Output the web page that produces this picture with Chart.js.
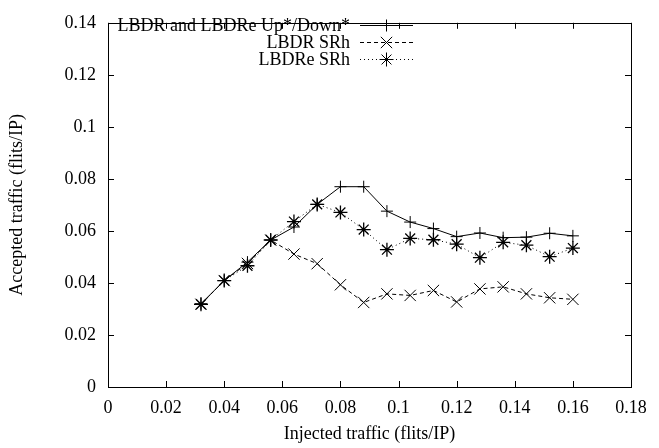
<!DOCTYPE html>
<html>
<head>
<meta charset="utf-8">
<script src="https://cdn.jsdelivr.net/npm/chart.js@4/dist/chart.umd.min.js"></script>
<style>
  html, body { margin: 0; padding: 0; background: #fff; }
  #wrap { width: 659px; height: 448px; }
</style>
</head>
<body>
<div id="wrap"><canvas id="trafficChart" width="659" height="448"></canvas></div>
<script>
// Injected traffic (flits/IP)
const injected = [0.032, 0.040, 0.048, 0.056, 0.064, 0.072, 0.080, 0.088, 0.096, 0.104, 0.112, 0.120, 0.128, 0.136, 0.144, 0.152, 0.160];
// Accepted traffic (flits/IP)
const upDown = [0.0320, 0.0409, 0.0480, 0.0565, 0.0615, 0.0702, 0.0770, 0.0770, 0.0676, 0.0634, 0.0609, 0.0578, 0.0592, 0.0574, 0.0576, 0.0591, 0.0581];
const lbdrSRh = [0.0318, 0.0409, 0.0475, 0.0565, 0.0511, 0.0474, 0.0393, 0.0325, 0.0358, 0.0352, 0.0371, 0.0327, 0.0377, 0.0385, 0.0358, 0.0343, 0.0337];
const lbdreSRh = [0.0318, 0.0409, 0.0466, 0.0565, 0.0636, 0.0702, 0.0671, 0.0605, 0.0528, 0.0571, 0.0566, 0.0549, 0.0497, 0.0556, 0.0545, 0.0501, 0.0534];

const xTicks = [0, 0.02, 0.04, 0.06, 0.08, 0.1, 0.12, 0.14, 0.16, 0.18];
const yTicks = [0, 0.02, 0.04, 0.06, 0.08, 0.1, 0.12, 0.14];

const seriesNames = ['LBDR and LBDRe Up*/Down*', 'LBDR SRh', 'LBDRe SRh'];

const FONT = '"Liberation Serif", "DejaVu Serif", serif';
const FSIZE = 18;

function toPoints(ys) {
    return injected.map((x, i) => ({ x: x, y: ys[i] }));
}

function fmt(v) {
    return String(Number(v.toFixed(2)));
}

// box round the plot with inward ticks on all four sides (gnuplot style)
const frame = {
    id: 'frame',
    afterDatasetsDraw(chart) {
        const ctx = chart.ctx;
        const a = chart.chartArea;
        const xs = chart.scales.x, ys = chart.scales.y;
        const len = 6;
        ctx.save();
        ctx.strokeStyle = '#000';
        ctx.lineWidth = 1;
        ctx.beginPath();
        xTicks.forEach(v => {
            const px = Math.round(xs.getPixelForValue(v)) + 0.5;
            ctx.moveTo(px, a.bottom); ctx.lineTo(px, a.bottom - len);
            ctx.moveTo(px, a.top); ctx.lineTo(px, a.top + len);
        });
        yTicks.forEach(v => {
            const py = Math.round(ys.getPixelForValue(v)) + 0.5;
            ctx.moveTo(a.left, py); ctx.lineTo(a.left + len, py);
            ctx.moveTo(a.right, py); ctx.lineTo(a.right - len, py);
        });
        ctx.stroke();
        ctx.strokeRect(Math.round(a.left) + 0.5, Math.round(a.top) + 0.5,
            Math.round(a.right - a.left), Math.round(a.bottom - a.top));
        ctx.restore();
    }
};

// key in the top left corner, text right aligned then line sample
const key = {
    id: 'key',
    afterDraw(chart) {
        const ctx = chart.ctx;
        const textRight = 350, lineL = 360, lineR = 413;
        const rows = [25, 42, 59];
        ctx.save();
        ctx.font = FSIZE + 'px ' + FONT;
        ctx.fillStyle = '#000';
        ctx.textAlign = 'right';
        ctx.textBaseline = 'middle';
        chart.data.datasets.forEach((ds, i) => {
            const y = rows[i];
            ctx.fillText(seriesNames[i], textRight, y + 1);
            ctx.strokeStyle = '#000';
            ctx.lineWidth = 1;
            ctx.setLineDash(ds.borderDash || []);
            ctx.beginPath();
            ctx.moveTo(lineL, y + 0.5);
            ctx.lineTo(lineR, y + 0.5);
            ctx.stroke();
            ctx.setLineDash([]);
            Chart.helpers.drawPoint(ctx, {
                pointStyle: ds.pointStyle,
                radius: ds.pointRadius,
                rotation: 0,
                borderWidth: 1
            }, (lineL + lineR) / 2, y + 0.5);
        });
        ctx.restore();
    }
};

const ctx = document.getElementById('trafficChart').getContext('2d');
const trafficChart = new Chart(ctx, {
    type: 'line',
    data: {
        datasets: [
            {
                label: seriesNames[0],
                data: toPoints(upDown),
                borderColor: '#000', backgroundColor: '#000',
                borderWidth: 1, pointStyle: 'cross', pointRadius: 6,
                pointBorderWidth: 1, borderDash: []
            },
            {
                label: seriesNames[1],
                data: toPoints(lbdrSRh),
                borderColor: '#000', backgroundColor: '#000',
                borderWidth: 1, pointStyle: 'crossRot', pointRadius: 8,
                pointBorderWidth: 1, borderDash: [4, 3]
            },
            {
                label: seriesNames[2],
                data: toPoints(lbdreSRh),
                borderColor: '#000', backgroundColor: '#000',
                borderWidth: 1, pointStyle: 'star', pointRadius: 7,
                pointBorderWidth: 1.3, borderDash: [1, 3]
            }
        ]
    },
    options: {
        responsive: false,
        animation: false,
        devicePixelRatio: 1,
        layout: { padding: { left: 0, top: 12, right: 28, bottom: 0 } },
        plugins: { legend: { display: false }, tooltip: { enabled: false } },
        elements: { line: { tension: 0 } },
        scales: {
            x: {
                type: 'linear', min: 0, max: 0.18,
                afterBuildTicks: s => { s.ticks = xTicks.map(v => ({ value: v })); },
                afterFit: s => { s.height = 61; },
                grid: { display: false, drawTicks: false },
                border: { display: false },
                ticks: {
                    color: '#000', padding: 10, maxRotation: 0,
                    font: { family: FONT, size: FSIZE },
                    callback: v => fmt(v)
                },
                title: {
                    display: true, text: 'Injected traffic (flits/IP)', color: '#000',
                    font: { family: FONT, size: FSIZE }, padding: { top: 0, bottom: 3 }
                }
            },
            y: {
                type: 'linear', min: 0, max: 0.14,
                afterBuildTicks: s => { s.ticks = yTicks.map(v => ({ value: v })); },
                afterFit: s => { s.width = 108; },
                grid: { display: false, drawTicks: false },
                border: { display: false },
                ticks: {
                    color: '#000', padding: 12,
                    font: { family: FONT, size: FSIZE },
                    callback: v => fmt(v)
                },
                title: {
                    display: true, text: 'Accepted traffic (flits/IP)', color: '#000',
                    font: { family: FONT, size: FSIZE }, padding: { top: 6, bottom: 0 }
                }
            }
        }
    },
    plugins: [frame, key]
});
</script>
</body>
</html>
